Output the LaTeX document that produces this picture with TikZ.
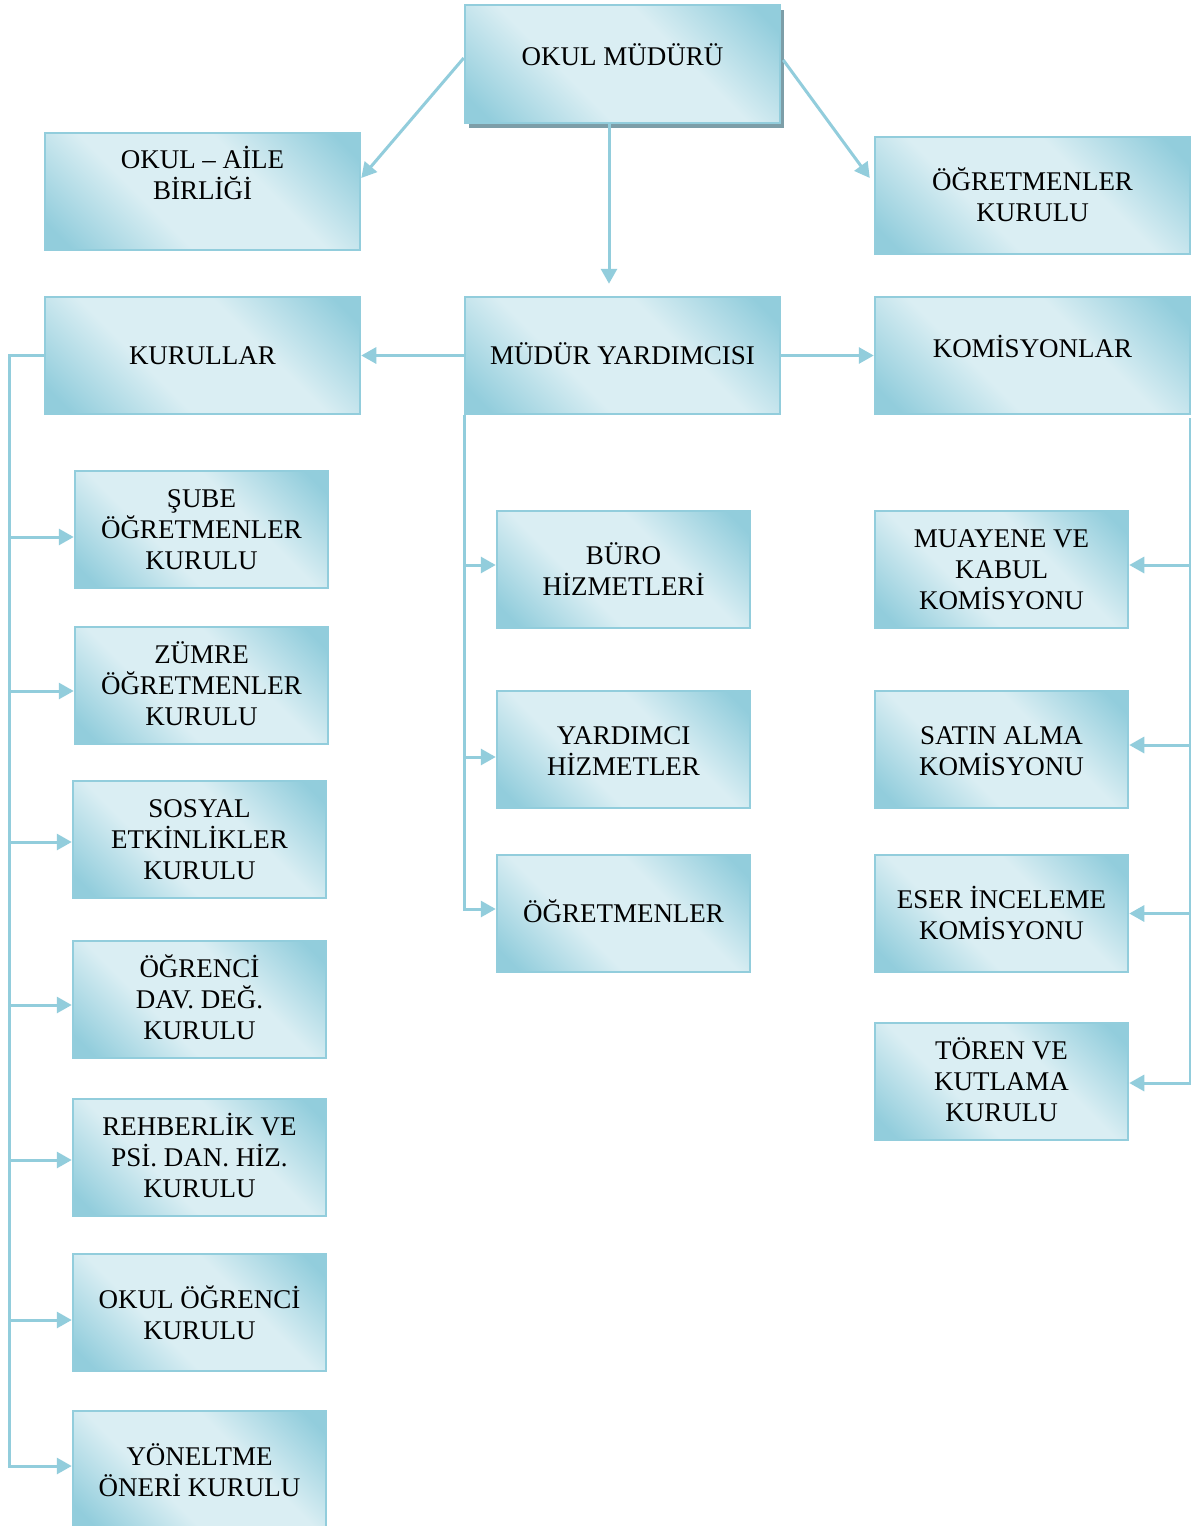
\documentclass[tikz,border=0pt]{standalone}
\usepackage{fontspec}
\setmainfont{Liberation Serif}
\usetikzlibrary{arrows.meta,calc,shadows}
\definecolor{boxdark}{RGB}{146,205,220}
\definecolor{boxlight}{RGB}{218,238,243}
\definecolor{linec}{RGB}{146,205,220}
\definecolor{shadowc}{RGB}{125,158,168}
\pgfdeclareverticalshading{boxshade}{100bp}{color(0bp)=(boxdark); color(19bp)=(boxdark); color(39bp)=(boxlight); color(61bp)=(boxlight); color(81bp)=(boxdark); color(100bp)=(boxdark)}
\tikzset{
  orgbox/.style={rectangle, draw=linec, line width=2.5pt, shading=boxshade, shading angle=-45,
    minimum height=117pt, align=center, font=\fontsize{27}{31}\selectfont,
    text height=17.8pt, text depth=0pt, inner sep=2pt},
  twolines/.style={text height=48.8pt},
  threelines/.style={text height=79.8pt},
  wide/.style={minimum width=315pt},
  narrow/.style={minimum width=253pt},
  conn/.style={draw=linec, line width=3pt},
  arr/.style={conn, -{Triangle[length=15pt,width=16pt]}},
}
\begin{document}
\begin{tikzpicture}[x=1pt,y=-1pt]
\path[fill=white, use as bounding box] (0,0) rectangle (1191,1526);

% top level
\node[orgbox, wide, minimum height=118pt, text depth=14pt,
  drop shadow={shadow xshift=4pt, shadow yshift=-5pt, fill=shadowc, opacity=1}] (ma) at (622.5,64) {OKUL MÜDÜRÜ};
\node[orgbox, wide, twolines, text depth=32pt] (oab) at (202.5,191.5) {OKUL – AİLE\\BİRLİĞİ};
\node[orgbox, wide, text height=52.8pt] (ok) at (1032.5,195.5) {ÖĞRETMENLER\\KURULU};

% second level
\node[orgbox, wide] (kur) at (202.5,355.5) {KURULLAR};
\node[orgbox, wide] (my) at (622.5,355.5) {MÜDÜR YARDIMCISI};
\node[orgbox, wide, text depth=13pt] (kom) at (1032.5,355.5) {KOMİSYONLAR};

% left column
\node[orgbox, narrow, threelines] (sube) at (201.5,529.5) {ŞUBE\\ÖĞRETMENLER\\KURULU};
\node[orgbox, narrow, threelines] (zumre) at (201.5,685.5) {ZÜMRE\\ÖĞRETMENLER\\KURULU};
\node[orgbox, narrow, threelines] (sos) at (199.5,839.5) {SOSYAL\\ETKİNLİKLER\\KURULU};
\node[orgbox, narrow, threelines] (ogr) at (199.5,999.5) {ÖĞRENCİ\\DAV. DEĞ.\\KURULU};
\node[orgbox, narrow, threelines] (reh) at (199.5,1157.5) {REHBERLİK VE\\PSİ. DAN. HİZ.\\KURULU};
\node[orgbox, narrow, text height=53.8pt] (ook) at (199.5,1312.5) {OKUL ÖĞRENCİ\\KURULU};
\node[orgbox, narrow, text height=53.8pt] (yon) at (199.5,1469.5) {YÖNELTME\\ÖNERİ KURULU};

% middle column
\node[orgbox, narrow, text height=52.8pt] (buro) at (623.5,569.5) {BÜRO\\HİZMETLERİ};
\node[orgbox, narrow, text height=52.8pt] (yard) at (623.5,749.5) {YARDIMCI\\HİZMETLER};
\node[orgbox, narrow] (ogrt) at (623.5,913.5) {ÖĞRETMENLER};

% right column
\node[orgbox, narrow, threelines] (muay) at (1001.5,569.5) {MUAYENE VE\\KABUL\\KOMİSYONU};
\node[orgbox, narrow, text height=52.8pt] (satin) at (1001.5,749.5) {SATIN ALMA\\KOMİSYONU};
\node[orgbox, narrow, text height=52.8pt] (eser) at (1001.5,913.5) {ESER İNCELEME\\KOMİSYONU};
\node[orgbox, narrow, threelines] (toren) at (1001.5,1081.5) {TÖREN VE\\KUTLAMA\\KURULU};

% top connectors
\draw[arr] ([yshift=6pt]ma.west) -- ([yshift=13.5pt]oab.east);
\draw[arr] ([xshift=2pt,yshift=4pt]ma.east) -- ([xshift=-4pt,yshift=17.5pt]ok.west);
\coordinate (mdown) at ([xshift=-13.5pt,yshift=12pt]my.north);
\draw[arr] ([xshift=-13.5pt]ma.south) -- (mdown);
\draw[arr] (my.west) -- (kur.east);
\draw[arr] (my.east) -- (kom.west);

% left trunk
\coordinate (lt) at ([xshift=-34pt]kur.west);
\coordinate (a1) at ([yshift=-7.5pt]sube.west);
\coordinate (a2) at ([yshift=-5.5pt]zumre.west);
\coordinate (a3) at ([yshift=-2.5pt]sos.west);
\coordinate (a4) at ([yshift=-5.5pt]ogr.west);
\coordinate (a5) at ([yshift=-2.5pt]reh.west);
\coordinate (a6) at ([yshift=-7.5pt]ook.west);
\coordinate (a7) at ([yshift=3.5pt]yon.west);
\draw[arr] (kur.west) -- (lt) -- (lt |- a7) -- (a7);
\foreach \p in {a1,a2,a3,a4,a5,a6} \draw[arr] (lt |- \p) -- (\p);

% middle trunk
\coordinate (mt) at ([xshift=0.5pt]my.south west);
\coordinate (b1) at ([yshift=4.5pt]buro.west);
\coordinate (b2) at ([yshift=-7.5pt]yard.west);
\coordinate (b3) at ([yshift=4.5pt]ogrt.west);
\draw[arr] (mt) -- (mt |- b3) -- (b3);
\foreach \p in {b1,b2} \draw[arr] (mt |- \p) -- (\p);

% right trunk
\coordinate (rt) at ([xshift=-1pt,yshift=-3pt]kom.south east);
\coordinate (c1) at ([yshift=4.5pt]muay.east);
\coordinate (c2) at ([yshift=4.5pt]satin.east);
\coordinate (c3) at (eser.east);
\coordinate (c4) at ([yshift=-1.5pt]toren.east);
\draw[arr] (rt) -- (rt |- c4) -- (c4);
\foreach \p in {c1,c2,c3} \draw[arr] (rt |- \p) -- (\p);
\end{tikzpicture}
\end{document}
